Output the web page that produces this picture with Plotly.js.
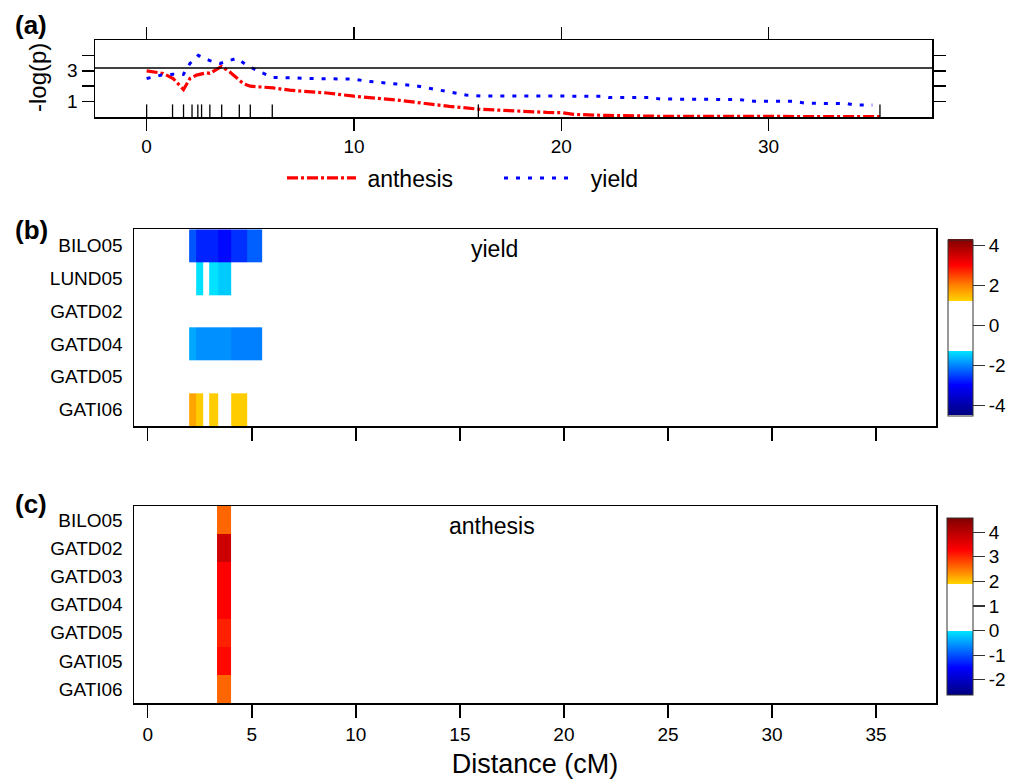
<!DOCTYPE html>
<html>
<head>
<meta charset="utf-8">
<script src="https://cdn.plot.ly/plotly-3.0.1.min.js"></script>
<style>html,body{margin:0;padding:0;background:#fff;}#chart{width:1025px;height:779px;}</style>
</head>
<body>
<div id="chart"></div>
<script>
// ---- Panel (a): -log(p) profiles along the chromosome (cM) ----
const anthesisX = [0,0.8,1.28,1.78,2.09,2.41,2.9,3.05,3.62,4.0,4.66,5.0,6.1,6.9,8.7,10.0,12.2,14.6,16.1,17.8,19.3,20.0,20.6,22.2,25.1,35.4];
const anthesisY = [3.0,2.83,2.5,1.78,2.5,2.72,2.87,2.83,3.28,2.94,2.17,2.0,1.89,1.74,1.56,1.35,1.08,0.69,0.5,0.37,0.3,0.28,0.17,0.1,0.04,0.03];
const yieldX = [0,0.72,1.28,1.77,2.09,2.49,3.05,3.54,4.34,4.82,5.46,6.1,8.0,9.97,10.6,13.0,13.7,14.8,15.4,16.1,21.9,22.3,24.3,24.8,28.6,29.3,31.2,31.8,33.8,34.1,35.0];
const yieldY = [2.5,2.72,2.78,2.76,3.48,4.0,3.66,3.48,3.81,3.37,2.93,2.57,2.5,2.46,2.33,2.02,1.85,1.61,1.43,1.37,1.35,1.26,1.26,1.17,1.13,1.02,1.02,0.89,0.87,0.78,0.78];
const markerPos = [0,1.25,1.78,2.19,2.47,2.65,3.05,3.62,4.47,5.0,6.06,16.0,35.37];
const threshold = 3.18;

// ---- Panel (b): yield effects by environment ----
const yieldEnvs = ["BILO05","LUND05","GATD02","GATD04","GATD05","GATI06"];
const yieldBinEdges = [1.99,2.32,2.64,2.95,3.36,4.0,4.77,5.49];
const yieldEffects = [
  [-2.37,-2.75,-2.75,-2.75,-2.94,-2.64,-2.29],
  [null,-1.34,null,-1.32,-1.49,null,null],
  [null,null,null,null,null,null,null],
  [-1.75,-1.93,-1.93,-1.93,-1.93,-2.05,-2.05],
  [null,null,null,null,null,null,null],
  [1.65,1.28,null,1.28,null,1.28,null]
];

// ---- Panel (c): anthesis effects by environment ----
const anthEnvs = ["BILO05","GATD02","GATD03","GATD04","GATD05","GATI05","GATI06"];
const anthBinEdges = [3.33,4.0];
const anthEffects = [[2.62],[3.82],[3.3],[3.3],[3.09],[3.25],[2.62]];

const xTicksA = [0,10,20,30];
const xTicksBC = [0,5,10,15,20,25,30,35];
const cbTicksB = [-4,-2,0,2,4];
const cbTicksC = [-2,-1,0,1,2,3,4];

const FONT = "Liberation Sans, Arial, Helvetica, sans-serif";

function scaleFor(zmin, zmax, negBlue, negCyan, posYellow, posOrange, posRed) {
  const f = v => (v - zmin) / (zmax - zmin);
  return [
    [0, '#00007f'],
    [f(negBlue), '#0000ff'],
    [f(negCyan), '#00e5ff'],
    [f(negCyan) + 0.0005, '#ffffff'],
    [f(posYellow), '#ffffff'],
    [f(posYellow) + 0.0005, '#ffd400'],
    [f(posOrange), '#ff8000'],
    [f(posRed), '#ff0000'],
    [1, '#800000']
  ];
}

const traces = [
  {x: anthesisX, y: anthesisY, type: 'scatter', mode: 'lines', name: '\u00a0anthesis',
   xaxis: 'x', yaxis: 'y', line: {color: '#ff0000', width: 3.2, dash: '11px,3px,3px,3px'}},
  {x: yieldX, y: yieldY, type: 'scatter', mode: 'lines', name: '\u00a0\u00a0yield',
   xaxis: 'x', yaxis: 'y', line: {color: '#0000ff', width: 3, dash: '4px,8px'}},
  {x: markerPos, y: markerPos.map(() => 0), type: 'scatter', mode: 'markers', showlegend: false,
   xaxis: 'x', yaxis: 'y', cliponaxis: true, hoverinfo: 'skip',
   marker: {symbol: 'line-ns-open', size: 18, color: '#000', line: {color: '#000', width: 1.3}}},
  {x: [-10, 50], y: [threshold, threshold], type: 'scatter', mode: 'lines', showlegend: false,
   xaxis: 'x', yaxis: 'y', line: {color: '#000', width: 1.5}, hoverinfo: 'skip'},
  {type: 'heatmap', x: yieldBinEdges, y: yieldEnvs, z: yieldEffects, xaxis: 'x2', yaxis: 'y2',
   zmin: -4.5, zmax: 4.3, colorscale: scaleFor(-4.5, 4.3, -3.0, -1.3, 1.2, 2.0, 3.0),
   showscale: true, hoverongaps: false,
   colorbar: {x: 948/1025, xanchor: 'left', y: 1 - 327.5/779, yanchor: 'middle',
     thickness: 25, thicknessmode: 'pixels', len: 176, lenmode: 'pixels',
     xpad: 0, ypad: 0, outlinewidth: 1, outlinecolor: '#333', borderwidth: 0,
     ticks: 'outside', ticklen: 12, tickwidth: 1.3, tickcolor: '#333',
     tickvals: cbTicksB, ticktext: cbTicksB.map(String),
     tickfont: {family: FONT, size: 19, color: '#000'}}},
  {type: 'heatmap', x: anthBinEdges, y: anthEnvs, z: anthEffects, xaxis: 'x3', yaxis: 'y3',
   zmin: -2.6, zmax: 4.6, colorscale: scaleFor(-2.6, 4.6, -1.5, 0.0, 1.92, 2.45, 3.3),
   showscale: true, hoverongaps: false,
   colorbar: {x: 947/1025, xanchor: 'left', y: 1 - 606/779, yanchor: 'middle',
     thickness: 26, thicknessmode: 'pixels', len: 177, lenmode: 'pixels',
     xpad: 0, ypad: 0, outlinewidth: 1, outlinecolor: '#333', borderwidth: 0,
     ticks: 'outside', ticklen: 12, tickwidth: 1.3, tickcolor: '#333',
     tickvals: cbTicksC, ticktext: cbTicksC.map(String),
     tickfont: {family: FONT, size: 19, color: '#000'}}}
];

const axisBase = {showgrid: false, zeroline: false, showline: true, linecolor: '#000', linewidth: 1.5,
  tickcolor: '#000', tickwidth: 1.5, tickfont: {family: FONT, size: 19, color: '#000'}};

const layout = {
  width: 1025, height: 779,
  margin: {l: 0, r: 0, t: 0, b: 0},
  paper_bgcolor: '#fff', plot_bgcolor: '#fff',
  font: {family: FONT, color: '#000'},
  showlegend: true,
  legend: {orientation: 'h', x: 282/1025, xanchor: 'left', y: 1 - 178/779, yanchor: 'middle',
    font: {family: FONT, size: 23, color: '#000'}, itemwidth: 69,
    entrywidth: 133, entrywidthmode: 'pixels', bgcolor: 'rgba(0,0,0,0)', borderwidth: 0},
  xaxis: Object.assign({}, axisBase, {domain: [95/1025, 932/1025], range: [-2.49, 37.88],
    tickvals: xTicksA, ticks: 'outside', ticklen: 12, mirror: 'ticks', anchor: 'y'}),
  yaxis: Object.assign({}, axisBase, {domain: [1 - 117/779, 1 - 40/779], range: [0, 5],
    tickvals: [1,2,3,4], ticktext: ['1','','3',''], ticks: 'outside', ticklen: 12, mirror: 'ticks',
    anchor: 'x'}),
  xaxis2: Object.assign({}, axisBase, {domain: [134/1025, 936/1025], range: [-0.66, 37.88],
    tickvals: xTicksBC, ticks: 'outside', ticklen: 13, showticklabels: false, mirror: true, anchor: 'y2'}),
  yaxis2: Object.assign({}, axisBase, {domain: [1 - 426/779, 1 - 229.3/779], type: 'category',
    categoryorder: 'array', categoryarray: yieldEnvs, autorange: 'reversed',
    ticks: 'outside', ticklen: 6, tickcolor: 'rgba(0,0,0,0)', mirror: true, anchor: 'x2',
    tickfont: {family: FONT, size: 19, color: '#000'}}),
  xaxis3: Object.assign({}, axisBase, {domain: [134/1025, 936/1025], range: [-0.66, 37.88],
    tickvals: xTicksBC, ticks: 'outside', ticklen: 13, mirror: true, anchor: 'y3',
    title: {text: 'Distance (cM)', font: {family: FONT, size: 27, color: '#000'}, standoff: 12}}),
  yaxis3: Object.assign({}, axisBase, {domain: [1 - 703.3/779, 1 - 506/779], type: 'category',
    categoryorder: 'array', categoryarray: anthEnvs, autorange: 'reversed',
    ticks: 'outside', ticklen: 6, tickcolor: 'rgba(0,0,0,0)', mirror: true, anchor: 'x3',
    tickfont: {family: FONT, size: 19, color: '#000'}}),
  annotations: [
    {text: '-log(p)', xref: 'paper', yref: 'paper', x: 37/1025, y: 1 - 78/779, xanchor: 'center', yanchor: 'middle',
     textangle: -90, showarrow: false, font: {family: FONT, size: 24, color: '#000'}},
    {text: '<b>(a)</b>', xref: 'paper', yref: 'paper', x: 13/1025, y: 1 - 25/779, xanchor: 'left', yanchor: 'middle',
     showarrow: false, font: {family: FONT, size: 26, color: '#000'}},
    {text: '<b>(b)</b>', xref: 'paper', yref: 'paper', x: 13/1025, y: 1 - 230/779, xanchor: 'left', yanchor: 'middle',
     showarrow: false, font: {family: FONT, size: 26, color: '#000'}},
    {text: '<b>(c)</b>', xref: 'paper', yref: 'paper', x: 13/1025, y: 1 - 504/779, xanchor: 'left', yanchor: 'middle',
     showarrow: false, font: {family: FONT, size: 26, color: '#000'}},
    {text: 'yield', xref: 'paper', yref: 'paper', x: 494/1025, y: 1 - 249/779, xanchor: 'center', yanchor: 'middle',
     showarrow: false, font: {family: FONT, size: 23, color: '#000'}},
    {text: 'anthesis', xref: 'paper', yref: 'paper', x: 492/1025, y: 1 - 526/779, xanchor: 'center', yanchor: 'middle',
     showarrow: false, font: {family: FONT, size: 23, color: '#000'}}
  ]
};

Plotly.newPlot('chart', traces, layout, {staticPlot: true, displayModeBar: false});
</script>
</body>
</html>
